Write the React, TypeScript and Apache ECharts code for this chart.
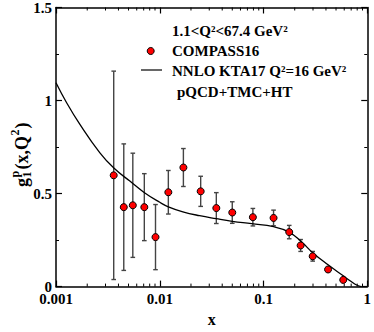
import React, { useEffect, useRef } from "react";
import * as echarts from "echarts";

// COMPASS16 data points (x, g1p, error)
const pointX = [0.0036, 0.0045, 0.0055, 0.0071, 0.0091, 0.0121, 0.0169, 0.0248, 0.0351, 0.050, 0.079, 0.125, 0.177, 0.228, 0.298, 0.419, 0.587];
const pointY = [0.598, 0.427, 0.437, 0.427, 0.266, 0.507, 0.640, 0.512, 0.422, 0.398, 0.373, 0.369, 0.293, 0.221, 0.163, 0.092, 0.036];
const pointErr = [0.56, 0.34, 0.28, 0.18, 0.175, 0.117, 0.102, 0.081, 0.083, 0.058, 0.047, 0.042, 0.036, 0.032, 0.026, 0.012, 0.008];

// NNLO KTA17 curve (Q^2 = 16 GeV^2)
const curveX = [0.001, 0.00127, 0.0017, 0.00265, 0.00361, 0.00515, 0.00707, 0.01, 0.0121, 0.0167, 0.0242, 0.035, 0.05, 0.077, 0.125, 0.176, 0.231, 0.298, 0.419, 0.587, 0.70, 0.78, 0.87];
const curveY = [1.096, 0.987, 0.872, 0.719, 0.637, 0.567, 0.506, 0.453, 0.429, 0.402, 0.381, 0.365, 0.351, 0.338, 0.322, 0.293, 0.242, 0.182, 0.117, 0.058, 0.027, 0.010, 0.0];

// axis ticks
const xTickLabels = ["0.001", "0.01", "0.1", "1"];
const xMinorTicks = [0.002, 0.003, 0.004, 0.005, 0.006, 0.007, 0.008, 0.009, 0.02, 0.03, 0.04, 0.05, 0.06, 0.07, 0.08, 0.09, 0.2, 0.3, 0.4, 0.5, 0.6, 0.7, 0.8, 0.9];
const yTickLabels = ["0", "0.5", "1", "1.5"];

const FONT = "'Liberation Serif', 'Times New Roman', serif";

export default function App() {
  const ref = useRef<HTMLDivElement>(null);

  useEffect(() => {
    const chart = echarts.init(ref.current as HTMLDivElement, undefined, { renderer: "svg" });

    const pts = pointX.map((x, i) => [x, pointY[i]]);
    const errs = pointX.map((x, i) => [x, pointY[i] - pointErr[i], pointY[i] + pointErr[i]]);
    const curve = curveX.map((x, i) => [x, curveY[i]]);
    const minor = xMinorTicks.map((v) => [v, 0]);

    const labelStyle = { fontFamily: FONT, fontWeight: "bold" as const, fontSize: 15, lineHeight: 12, color: "#000" };
    const axisLine = { show: true, onZero: false, lineStyle: { color: "#000", width: 1.5 } };
    const axisTick = { show: true, inside: true, length: 6, lineStyle: { color: "#000", width: 1.2 } };

    const bigText = { fontFamily: FONT, fontWeight: "bold" as const, fontSize: 15, fill: "#000" };
    const yl = { fontFamily: FONT, fontWeight: "bold" as const, fill: "#000", verticalAlign: "middle" as const, align: "left" as const };

    chart.setOption({
      animation: false,
      grid: { left: 56, top: 7, right: 6, bottom: 31 },
      xAxis: [
        {
          type: "log",
          logBase: 10,
          min: 0.001,
          max: 1,
          position: "bottom",
          axisLine,
          axisTick,
          splitLine: { show: false },
          axisLabel: {
            ...labelStyle,
            margin: 6,
            formatter: (v: number) => xTickLabels[Math.round(Math.log10(v)) + 3],
          },
          name: "x",
          nameLocation: "middle",
          nameGap: 23,
          nameTextStyle: { fontFamily: FONT, fontWeight: "bold", fontSize: 16, lineHeight: 12, color: "#000" },
        },
        {
          type: "log",
          logBase: 10,
          min: 0.001,
          max: 1,
          position: "top",
          axisLine,
          axisTick,
          splitLine: { show: false },
          axisLabel: { show: false },
        },
      ],
      yAxis: [
        {
          type: "value",
          min: 0,
          max: 1.5,
          interval: 0.5,
          position: "left",
          axisLine,
          axisTick,
          minorTick: { show: true, splitNumber: 2, length: 3, lineStyle: { color: "#000", width: 1 } },
          splitLine: { show: false },
          minorSplitLine: { show: false },
          axisLabel: {
            ...labelStyle,
            margin: 4,
            formatter: (v: number) => yTickLabels[Math.round(v * 2)],
          },
        },
        {
          type: "value",
          min: 0,
          max: 1.5,
          interval: 0.5,
          position: "right",
          axisLine,
          axisTick,
          minorTick: { show: true, splitNumber: 2, length: 3, lineStyle: { color: "#000", width: 1 } },
          splitLine: { show: false },
          minorSplitLine: { show: false },
          axisLabel: { show: false },
        },
      ],
      series: [
        {
          type: "custom",
          name: "minorTicks",
          silent: true,
          xAxisIndex: 0,
          yAxisIndex: 0,
          encode: { x: 0, y: 1 },
          data: minor,
          renderItem: (_p: any, api: any) => {
            const v = api.value(0);
            const b = api.coord([v, 0]);
            const t = api.coord([v, 1.5]);
            return {
              type: "group",
              children: [
                { type: "line", shape: { x1: b[0], y1: b[1], x2: b[0], y2: b[1] - 3 }, style: { stroke: "#000", lineWidth: 1 } },
                { type: "line", shape: { x1: t[0], y1: t[1], x2: t[0], y2: t[1] + 3 }, style: { stroke: "#000", lineWidth: 1 } },
              ],
            };
          },
        },
        {
          type: "custom",
          name: "errors",
          silent: true,
          encode: { x: 0, y: [1, 2] },
          data: errs,
          z: 2,
          renderItem: (_p: any, api: any) => {
            const x = api.value(0);
            const lo = api.coord([x, api.value(1)]);
            const hi = api.coord([x, api.value(2)]);
            const st = { stroke: "#444", lineWidth: 1.4 };
            const cw = 2.3;
            return {
              type: "group",
              children: [
                { type: "line", shape: { x1: lo[0], y1: lo[1], x2: hi[0], y2: hi[1] }, style: st },
                { type: "line", shape: { x1: lo[0] - cw, y1: lo[1], x2: lo[0] + cw, y2: lo[1] }, style: st },
                { type: "line", shape: { x1: hi[0] - cw, y1: hi[1], x2: hi[0] + cw, y2: hi[1] }, style: st },
              ],
            };
          },
        },
        {
          type: "line",
          name: "NNLO KTA17",
          data: curve,
          showSymbol: false,
          symbol: "none",
          smooth: 0.45,
          lineStyle: { color: "#000", width: 1.3 },
          z: 3,
        },
        {
          type: "scatter",
          name: "COMPASS16",
          data: pts,
          symbol: "circle",
          symbolSize: 7,
          itemStyle: { color: "#ff0000", borderColor: "#000", borderWidth: 1, opacity: 1 },
          z: 4,
        },
      ],
      graphic: [
        {
          type: "text",
          x: 172,
          y: 31,
          style: { ...bigText, text: "1.1<Q²<67.4 GeV²", verticalAlign: "middle", align: "left" },
        },
        {
          type: "circle",
          shape: { cx: 150.7, cy: 51, r: 3.5 },
          style: { fill: "#ff0000", stroke: "#000", lineWidth: 1 },
        },
        {
          type: "text",
          x: 172,
          y: 51.3,
          style: { ...bigText, text: "COMPASS16", verticalAlign: "middle", align: "left" },
        },
        {
          type: "line",
          shape: { x1: 141, y1: 70, x2: 162, y2: 70 },
          style: { stroke: "#000", lineWidth: 1.2 },
        },
        {
          type: "text",
          x: 172,
          y: 71,
          style: { ...bigText, text: "NNLO KTA17 Q²=16 GeV²", verticalAlign: "middle", align: "left" },
        },
        {
          type: "text",
          x: 177,
          y: 92,
          style: { ...bigText, text: "pQCD+TMC+HT", verticalAlign: "middle", align: "left" },
        },
        {
          type: "group",
          x: 22,
          y: 187,
          rotation: Math.PI / 2,
          children: [
            { type: "text", x: 0, y: 0, style: { ...yl, text: "g", fontSize: 18 } },
            { type: "text", x: 9.5, y: 5, style: { ...yl, text: "1", fontSize: 12 } },
            { type: "text", x: 9.5, y: -7, style: { ...yl, text: "p", fontSize: 12 } },
            { type: "text", x: 17.5, y: 0, style: { ...yl, text: "(x,Q", fontSize: 18 } },
            { type: "text", x: 51.5, y: -7, style: { ...yl, text: "2", fontSize: 12 } },
            { type: "text", x: 58.5, y: 0, style: { ...yl, text: ")", fontSize: 18 } },
          ],
        },
      ],
    });

    return () => chart.dispose();
  }, []);

  return (
    <div
      ref={ref}
      style={{ position: "fixed", left: 0, top: 0, width: 374, height: 332, background: "#fff" }}
    />
  );
}
